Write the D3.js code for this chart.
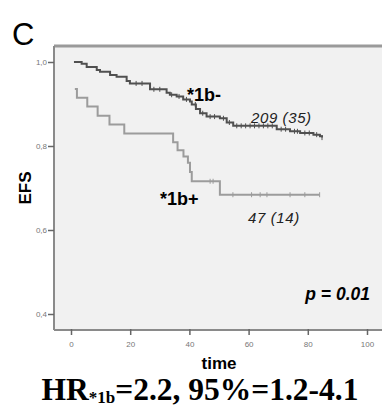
<!DOCTYPE html>
<html><head><meta charset="utf-8">
<script src="https://cdn.jsdelivr.net/npm/d3@7"></script>
<style>body{margin:0;background:#fff}svg{display:block}</style>
</head><body>
<script>
// Kaplan-Meier step points (time, survival)
const negTimes = [1, 3.6, 5.3, 8.7, 9.8, 13.2, 15.4, 18.8, 19.9, 26.7, 32.3, 33.4, 35.7, 37.9, 40.2, 40.8, 42.2, 43.6, 45.8, 50.3, 52.6, 54.8, 69.5, 74, 77.4, 81.9, 84.1, 84.8];
const negSurv  = [1.0, 0.996, 0.988, 0.981, 0.977, 0.969, 0.965, 0.955, 0.949, 0.935, 0.927, 0.922, 0.918, 0.911, 0.906, 0.899, 0.888, 0.878, 0.870, 0.866, 0.856, 0.848, 0.840, 0.835, 0.831, 0.827, 0.823, 0.820];
const negCensor = [22, 24, 28, 30, 34, 36.5, 39, 42, 44.5, 47, 48.5, 51.5, 53.5, 56, 57.5, 59, 60.5, 62, 63.5, 65, 66.5, 68, 71, 72.5, 75.5, 76.5, 79, 80.5, 83, 84.8];
const posTimes = [1.3, 2, 5.5, 9, 13, 18, 34.5, 36, 38, 39.5, 40.2, 40.8, 50.3, 84];
const posSurv  = [0.936, 0.915, 0.894, 0.872, 0.851, 0.830, 0.809, 0.790, 0.775, 0.760, 0.738, 0.716, 0.684, 0.684];
const posCensor = [47, 48, 54.7, 61, 63.9, 66.2, 74, 79, 84];
const xTicks = [0, 20, 40, 60, 80, 100];
const yTicks = [0.4, 0.6, 0.8, 1.0];

const W = 382, H = 410;
const svg = d3.select("body").append("svg").attr("width", W).attr("height", H);
const x = d3.scaleLinear().domain([0, 100]).range([71, 367]);
const y = d3.scaleLinear().domain([0.4, 1.0]).range([314, 62]);

const L = 54, T = 46, R = 383, B = 330;
svg.append("rect").attr("x", L).attr("y", T).attr("width", R - L).attr("height", B - T).attr("fill", "#f1f1f1");
// frame
svg.append("line").attr("x1", L).attr("x2", R).attr("y1", T).attr("y2", T).attr("stroke", "#9a9a9a").attr("stroke-width", 3);
svg.append("line").attr("x1", L).attr("x2", L).attr("y1", T).attr("y2", B).attr("stroke", "#8a8a8a").attr("stroke-width", 2);
svg.append("line").attr("x1", L).attr("x2", R).attr("y1", B).attr("y2", B).attr("stroke", "#8a8a8a").attr("stroke-width", 2);

// axes
const yAxis = d3.axisLeft(y).tickValues(yTicks).tickSize(6).tickFormat(d => d3.format(".1f")(d).replace(".", ","));
const gy = svg.append("g").attr("transform", `translate(${L},0)`).call(yAxis);
gy.select(".domain").remove();
gy.selectAll("line").attr("stroke", "#666").attr("stroke-width", 1.5);
gy.selectAll("text").attr("fill", "#777").style("font-family", "Liberation Sans, Arial").style("font-size", "8px").attr("x", -7);

const xAxis = d3.axisBottom(x).tickValues(xTicks).tickSize(6).tickFormat(d3.format("d"));
const gx = svg.append("g").attr("transform", `translate(0,${B - 1})`).call(xAxis);
gx.select(".domain").remove();
gx.selectAll("line").attr("stroke", "#666").attr("stroke-width", 1.5);
gx.selectAll("text").attr("fill", "#777").style("font-family", "Liberation Sans, Arial").style("font-size", "8px").attr("y", 12);

const line = d3.line().x(d => x(d[0])).y(d => y(d[1])).curve(d3.curveStepAfter);
function km(times, surv) { return times.map((t, i) => [t, surv[i]]); }
function survAt(times, surv, t) { let s = surv[0]; for (let i = 0; i < times.length; i++) if (times[i] <= t) s = surv[i]; return s; }

const posData = km(posTimes, posSurv);
const negData = km(negTimes, negSurv);
svg.append("path").attr("d", line(posData)).attr("fill", "none").attr("stroke", "#9c9c9c").attr("stroke-width", 2);
svg.selectAll(".pc").data(posCensor).join("line")
  .attr("x1", d => x(d)).attr("x2", d => x(d))
  .attr("y1", d => y(survAt(posTimes, posSurv, d)) - 2.5).attr("y2", d => y(survAt(posTimes, posSurv, d)) + 2.5)
  .attr("stroke", "#9c9c9c").attr("stroke-width", 1);
svg.append("path").attr("d", line(negData)).attr("fill", "none").attr("stroke", "#505050").attr("stroke-width", 2);
svg.selectAll(".nc").data(negCensor).join("line")
  .attr("x1", d => x(d)).attr("x2", d => x(d))
  .attr("y1", d => y(survAt(negTimes, negSurv, d)) - 2.5).attr("y2", d => y(survAt(negTimes, negSurv, d)) + 2.5)
  .attr("stroke", "#505050").attr("stroke-width", 1);

const sans = "Liberation Sans, Arial, sans-serif";
function txt(s, X, Y, size, weight, style, fill, anchor) {
  return svg.append("text").attr("x", X).attr("y", Y).text(s)
    .style("font-family", sans).style("font-size", size + "px").style("font-weight", weight || "normal")
    .style("font-style", style || "normal").attr("fill", fill || "#000").attr("text-anchor", anchor || "start");
}
txt("C", 12, 45, 31);
txt("*1b-", 187, 101, 18, "bold");
txt("209 (35)", 251, 123, 15, "normal", "italic", "#222").style("letter-spacing", "0.6px");
txt("*1b+", 160, 205, 18, "bold");
txt("47 (14)", 248, 223, 15, "normal", "italic", "#222").style("letter-spacing", "0.6px");
txt("p = 0.01", 370, 300, 17.5, "bold", "italic", "#000", "end");
txt("time", 219, 369, 17, "bold", "normal", "#000", "middle");
svg.append("text").attr("transform", "translate(31,188) rotate(-90)").attr("text-anchor", "middle")
  .style("font-family", sans).style("font-size", "17px").style("font-weight", "bold").text("EFS");

const hr = svg.append("text").attr("x", 200).attr("y", 400).attr("text-anchor", "middle")
  .style("font-family", "Liberation Serif, Times New Roman, serif").style("font-weight", "bold").style("font-size", "31.5px");
hr.append("tspan").text("HR");
hr.append("tspan").attr("dy", 3).style("font-size", "17px").text("*1b");
hr.append("tspan").attr("dy", -3).text("=2.2, 95%=1.2-4.1");
</script>
</body></html>
